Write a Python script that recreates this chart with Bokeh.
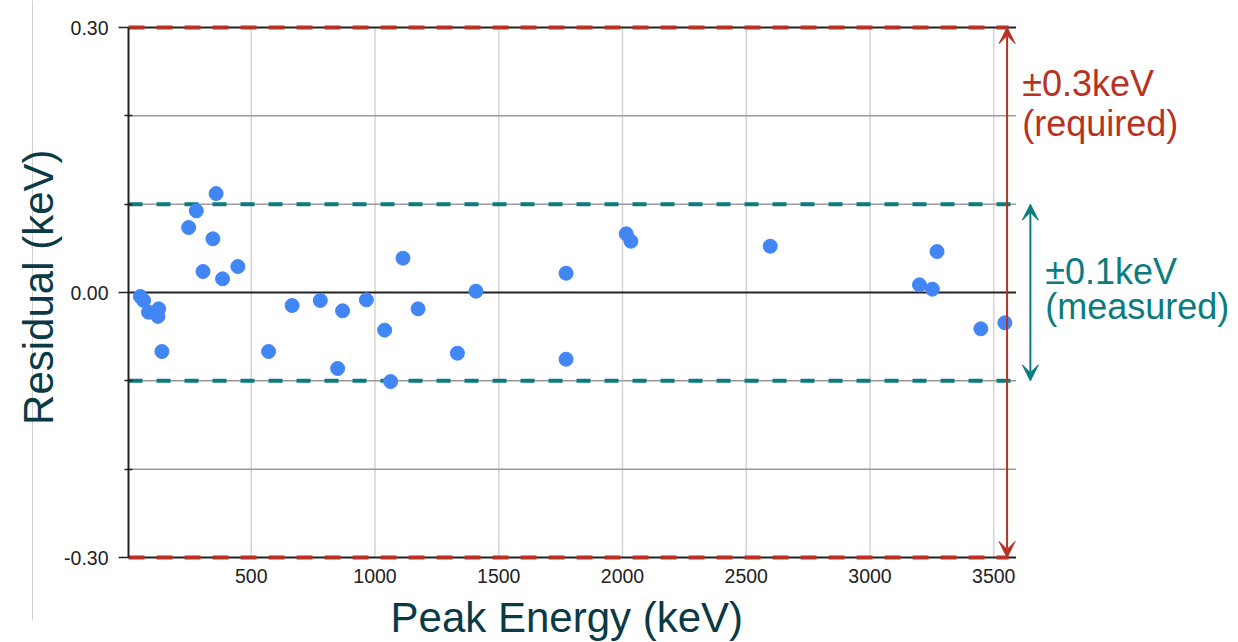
import math
from bokeh.plotting import figure
from bokeh.models import (Range1d, FixedTicker, PrintfTickFormatter,
                          Arrow, VeeHead, Label)
from bokeh.embed import file_html
from bokeh.resources import INLINE

# ---------------- data ----------------
peak_energy_kev = [52, 65, 85, 126, 123, 139, 247, 278, 305, 345, 358, 384,
                   446, 570, 665, 779, 849, 869, 965, 1039, 1063, 1113, 1174,
                   1333, 1408, 1772, 1772, 2015, 2034, 2597, 3200, 3252, 3271,
                   3448, 3545]
residual_kev = [-0.0045, -0.009, -0.0223, -0.0185, -0.027, -0.0668, 0.0736,
                0.0925, 0.0238, 0.0608, 0.112, 0.0155, 0.0294, -0.0668,
                -0.0147, -0.009, -0.086, -0.0207, -0.0083, -0.0426, -0.1008,
                0.0389, -0.0185, -0.0687, 0.0015, 0.0219, -0.0755, 0.0664,
                0.0581, 0.0524, 0.0087, 0.0038, 0.0464, -0.0411, -0.0343]
x_ticks = [500, 1000, 1500, 2000, 2500, 3000, 3500]
y_label_ticks = [-0.30, 0.00, 0.30]
y_minor_ticks = [-0.20, -0.10, 0.10, 0.20]
x_limits = [4, 3590]
y_limits = [-0.30, 0.30]
required_tol = 0.3
measured_tol = 0.1
x_title = "Peak Energy (keV)"
y_title = "Residual (keV)"
required_text = ["±0.3keV", "(required)"]
measured_text = ["±0.1keV", "(measured)"]

# ---------------- layout / style ----------------
RED = "#b73223"
TEAL = "#0b7b80"
DARK = "#0a3a46"
BLUE = "#4285f4"
BLACK = "#222222"
FONT = "Liberation Sans"
# the view spans the whole canvas; the plot area is x_limits x y_limits
X_VIEW = (-513.2, 4489)
Y_VIEW = (-0.3962, 0.3306)

p = figure(width=1238, height=642,
           x_range=Range1d(*X_VIEW), y_range=Range1d(*Y_VIEW),
           output_backend="svg", toolbar_location=None,
           min_border_left=0, min_border_right=0,
           min_border_top=0, min_border_bottom=0)
p.outline_line_color = None
p.background_fill_color = "white"
p.grid.visible = False

# x axis pinned at the bottom of the plot area
xa = p.xaxis[0]
xa.fixed_location = y_limits[0]
xa.bounds = tuple(x_limits)
xa.ticker = FixedTicker(ticks=x_ticks)
xa.axis_line_color = None
xa.major_tick_out = 0
xa.major_tick_in = 0
xa.minor_tick_out = 0
xa.minor_tick_in = 0
xa.major_label_standoff = 11
xa.major_label_text_font = FONT
xa.major_label_text_font_size = "19.5px"
xa.major_label_text_color = BLACK

# y axis pinned at the left of the plot area
ya = p.yaxis[0]
ya.fixed_location = x_limits[0]
ya.bounds = tuple(y_limits)
ya.ticker = FixedTicker(ticks=y_label_ticks, minor_ticks=y_minor_ticks)
ya.formatter = PrintfTickFormatter(format="%.2f")
ya.major_tick_out = 10
ya.major_tick_in = 0
ya.minor_tick_out = 4
ya.minor_tick_in = 4
ya.major_tick_line_color = BLACK
ya.minor_tick_line_color = BLACK
ya.major_tick_line_width = 1.5
ya.minor_tick_line_width = 1.5
ya.major_label_standoff = 10
ya.major_label_text_font = FONT
ya.major_label_text_font_size = "19.5px"
ya.major_label_text_color = BLACK
ya.axis_line_color = BLACK
ya.axis_line_width = 2

# thin page border seen at the left of the slide
p.segment(x0=[-384], y0=[Y_VIEW[1]], x1=[-384], y1=[-0.371],
          line_color="#cfcfcf", line_width=1)

# grid lines, limited to the plot area
n = len(x_ticks)
p.segment(x0=x_ticks, y0=[y_limits[0]] * n, x1=x_ticks, y1=[y_limits[1]] * n,
          line_color="#d4d4d4", line_width=1.5)
m = len(y_minor_ticks)
p.segment(x0=[x_limits[0]] * m, y0=y_minor_ticks,
          x1=[x_limits[1]] * m, y1=y_minor_ticks,
          line_color="#9a9a9a", line_width=1.5)
# zero line, top and bottom borders
p.segment(x0=[x_limits[0]] * 3, y0=[0, y_limits[0], y_limits[1]],
          x1=[x_limits[1]] * 3, y1=[0, y_limits[0], y_limits[1]],
          line_color=BLACK, line_width=2)
# tolerance lines
p.segment(x0=[x_limits[0]] * 2, y0=[measured_tol, -measured_tol],
          x1=[x_limits[1]] * 2, y1=[measured_tol, -measured_tol],
          line_color=TEAL, line_width=4, line_dash="14 14")
p.segment(x0=[x_limits[0]] * 2, y0=[required_tol, -required_tol],
          x1=[x_limits[1] - 30] * 2, y1=[required_tol, -required_tol],
          line_color=RED, line_width=4, line_dash="16 12")

# points
p.scatter(peak_energy_kev, residual_kev, size=14, color=BLUE, line_color=BLUE)

# arrows
red_x = 3554
teal_x = 3648
p.add_layout(Arrow(start=VeeHead(size=16, fill_color=RED, line_color=RED),
                   end=VeeHead(size=16, fill_color=RED, line_color=RED),
                   x_start=red_x, y_start=-required_tol,
                   x_end=red_x, y_end=required_tol,
                   line_color=RED, line_width=2))
p.add_layout(Arrow(start=VeeHead(size=16, fill_color=TEAL, line_color=TEAL),
                   end=VeeHead(size=16, fill_color=TEAL, line_color=TEAL),
                   x_start=teal_x, y_start=-measured_tol,
                   x_end=teal_x, y_end=measured_tol,
                   line_color=TEAL, line_width=2))

# annotation texts
for txt, yy in zip(required_text, [0.2366, 0.1913]):
    p.add_layout(Label(x=3615, y=yy, text=txt, text_font=FONT,
                       text_font_size="36px", text_color=RED,
                       text_baseline="alphabetic", text_align="left"))
for txt, yy in zip(measured_text, [0.0237, -0.0159]):
    p.add_layout(Label(x=3708, y=yy, text=txt, text_font=FONT,
                       text_font_size="36px", text_color=TEAL,
                       text_baseline="alphabetic", text_align="left"))

# axis titles
p.add_layout(Label(x=1775, y=-0.368, text=x_title, text_font=FONT,
                   text_font_size="42px", text_color=DARK,
                   text_baseline="alphabetic", text_align="center"))
p.add_layout(Label(x=-360, y=0.006, text=y_title, text_font=FONT,
                   text_font_size="42px", text_color=DARK, angle=math.pi / 2,
                   text_baseline="alphabetic", text_align="center"))

open("out.html", "w").write(file_html(p, INLINE))
